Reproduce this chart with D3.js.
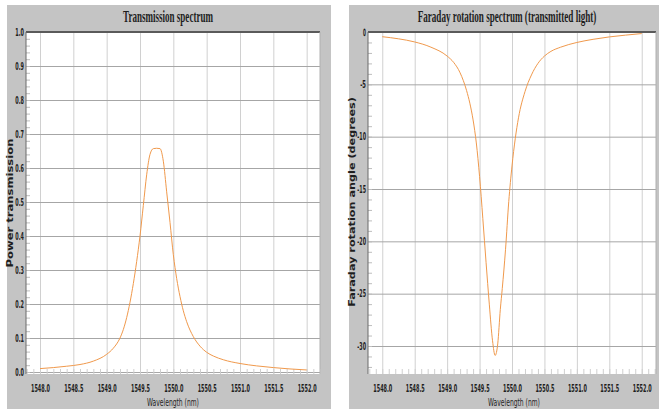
<!DOCTYPE html>
<html>
<head>
<meta charset="utf-8">
<title>Transmission and Faraday rotation spectra</title>
<script src="https://d3js.org/d3.v7.min.js"></script>
<style>
  body { margin: 0; background: #fff; }
  svg text { fill: #1e1e1e; }
</style>
</head>
<body>
<div id="my_dataviz"></div>
<script>
// values
var wavelengthT = [1548.0, 1548.2, 1548.4, 1548.6, 1548.8, 1549.0, 1549.1, 1549.2, 1549.25, 1549.3,
  1549.35, 1549.4, 1549.45, 1549.5, 1549.55, 1549.6, 1549.65, 1549.7, 1549.75, 1549.8,
  1549.85, 1549.9, 1549.95, 1550.0, 1550.05, 1550.1, 1550.15, 1550.2, 1550.3, 1550.4,
  1550.5, 1550.6, 1550.75, 1551.0, 1551.25, 1551.5, 1551.75, 1552.0];
var transmission = [0.010, 0.013, 0.017, 0.022, 0.032, 0.052, 0.070, 0.100, 0.125, 0.160,
  0.205, 0.260, 0.325, 0.400, 0.490, 0.580, 0.640, 0.657, 0.658, 0.657,
  0.620, 0.530, 0.440, 0.345, 0.275, 0.222, 0.180, 0.148, 0.104, 0.076,
  0.058, 0.047, 0.036, 0.025, 0.018, 0.013, 0.009, 0.006];

var wavelengthF = [1548.0, 1548.25, 1548.5, 1548.75, 1549.0, 1549.1, 1549.2, 1549.3, 1549.35, 1549.4,
  1549.45, 1549.5, 1549.55, 1549.6, 1549.65, 1549.7, 1549.74, 1549.78, 1549.82, 1549.85,
  1549.9, 1549.95, 1550.0, 1550.05, 1550.1, 1550.2, 1550.3, 1550.4, 1550.5, 1550.6,
  1550.75, 1551.0, 1551.25, 1551.5, 1551.75, 1552.0];
var faraday = [-0.45, -0.65, -0.95, -1.45, -2.3, -2.9, -3.9, -5.6, -6.8, -8.4,
  -10.6, -13.8, -17.8, -22.0, -26.0, -29.5, -30.9, -29.8, -26.5, -24.5,
  -20.8, -16.2, -12.8, -10.2, -8.2, -5.7, -4.1, -3.0, -2.3, -1.85,
  -1.45, -1.0, -0.7, -0.47, -0.3, -0.15];

var xTicks = [1548.0, 1548.5, 1549.0, 1549.5, 1550.0, 1550.5, 1551.0, 1551.5, 1552.0];
var transTicks = [0, 0.1, 0.2, 0.3, 0.4, 0.5, 0.6, 0.7, 0.8, 0.9, 1.0];
var faradayTicks = [0, -5, -10, -15, -20, -25, -30];

var svg = d3.select("#my_dataviz")
  .append("svg")
    .attr("width", 659)
    .attr("height", 409);

var narrow = "'Liberation Sans Narrow', 'DejaVu Sans Condensed', 'Liberation Sans', sans-serif";

// squeeze a text horizontally so it is `w` pixels wide (the originals use a narrow font)
function squeeze(node, w, prefix) {
  var s = w / node.getComputedTextLength();
  d3.select(node).attr("transform", (prefix || "") + " scale(" + s + ",1)");
}

function drawPanel(p) {
  var g = svg.append("g");

  // gray panel + white plot area
  g.append("rect")
    .attr("x", p.bx).attr("y", 5)
    .attr("width", p.bw).attr("height", 404)
    .attr("fill", "#c4c4c4");
  g.append("rect")
    .attr("x", p.left).attr("y", p.top)
    .attr("width", p.right - p.left).attr("height", p.bottom - p.top)
    .attr("fill", "#fff");

  var x = d3.scaleLinear().domain(p.xDomain).range([p.left, p.right]);
  var y = d3.scaleLinear().domain(p.yDomain).range(p.yRange);

  // vertical grid (lighter)
  g.append("g")
    .attr("transform", "translate(0," + p.bottom + ")")
    .call(d3.axisBottom(x).tickValues(xTicks).tickSize(-(p.bottom - p.top)).tickFormat(""))
    .call(function(a) { a.select(".domain").remove(); })
    .selectAll(".tick line").attr("stroke", "#d0d0d0");

  // horizontal grid (darker)
  g.append("g")
    .attr("transform", "translate(" + p.left + ",0)")
    .call(d3.axisLeft(y).tickValues(p.yTicks).tickSize(-(p.right - p.left)).tickFormat(""))
    .call(function(a) { a.select(".domain").remove(); })
    .selectAll(".tick line").attr("stroke", "#a6a6a6");

  // minor ticks along the bottom
  g.append("g")
    .attr("transform", "translate(0," + p.bottom + ")")
    .call(d3.axisBottom(x).tickValues(d3.range(1547.8, 1552.25, 0.1)).tickSize(-5).tickFormat(""))
    .call(function(a) { a.select(".domain").remove(); })
    .selectAll(".tick line").attr("stroke", "#cfcfcf");

  // minor ticks along the left edge
  g.append("g")
    .attr("transform", "translate(" + p.left + ",0)")
    .call(d3.axisLeft(y).tickValues(p.yMinor).tickSize(-4).tickFormat(""))
    .call(function(a) { a.select(".domain").remove(); })
    .selectAll(".tick line").attr("stroke", "#bdbdbd");

  // frame: dark top and left, light right
  g.append("line")
    .attr("x1", p.left).attr("x2", p.right)
    .attr("y1", p.top).attr("y2", p.top)
    .attr("stroke", "#5a5a5a").attr("stroke-width", 2);
  g.append("line")
    .attr("x1", p.left).attr("x2", p.left)
    .attr("y1", p.top).attr("y2", p.bottom)
    .attr("stroke", "#6a6a6a").attr("stroke-width", 1);
  g.append("line")
    .attr("x1", p.right).attr("x2", p.right)
    .attr("y1", p.top).attr("y2", p.bottom)
    .attr("stroke", "#b0b0b0").attr("stroke-width", 1);

  // the curve
  var line = d3.line()
    .x(function(d) { return x(d[0]); })
    .y(function(d) { return y(d[1]); })
    .curve(d3.curveMonotoneX);
  g.append("path")
    .datum(d3.zip(p.xs, p.ys))
    .attr("fill", "none")
    .attr("stroke", "#f0994c")
    .attr("stroke-width", 1)
    .attr("d", line);

  // x tick labels
  g.append("g")
    .attr("transform", "translate(0," + p.bottom + ")")
    .call(d3.axisBottom(x).tickValues(xTicks).tickSize(0).tickPadding(11)
      .tickFormat(d3.format(".1f")))
    .call(function(a) { a.select(".domain").remove(); })
    .selectAll("text")
      .style("font-family", narrow).style("font-size", "10px").style("font-weight", "bold")
      .each(function() { squeeze(this, 19); });

  // y tick labels
  g.append("g")
    .attr("transform", "translate(" + (p.left - 2) + ",0)")
    .call(d3.axisLeft(y).tickValues(p.yTicks).tickSize(0).tickPadding(0)
      .tickFormat(p.yFormat))
    .call(function(a) { a.select(".domain").remove(); })
    .selectAll("text")
      .style("font-family", narrow).style("font-size", "10px").style("font-weight", "bold")
      .each(function(d) { squeeze(this, p.yFormat(d).length * 2.9); });

  // title
  g.append("text")
    .attr("text-anchor", "middle")
    .style("font-family", "'Liberation Serif', 'DejaVu Serif', serif")
    .style("font-size", "16px").style("font-weight", "bold")
    .text(p.title)
    .each(function() { squeeze(this, p.titleLen, "translate(" + p.titleX + ",22)"); });

  // x axis label
  g.append("text")
    .attr("text-anchor", "middle")
    .style("font-family", narrow).style("font-size", "10px")
    .text("Wavelength (nm)")
    .each(function() { squeeze(this, 52, "translate(" + p.xLabelX + ",406)"); });

  // y axis label
  g.append("text")
    .attr("text-anchor", "middle")
    .style("font-family", "'DejaVu Sans', Verdana, sans-serif")
    .style("font-size", "9px").style("font-weight", "bold")
    .text(p.yLabel)
    .each(function() {
      squeeze(this, p.yLabelLen, "translate(" + p.yLabelX + "," + p.yLabelY + ") rotate(-90)");
    });
}

drawPanel({
  bx: 7, bw: 324,
  left: 26, right: 320, top: 32, bottom: 374,
  xDomain: [1547.79, 1552.2],
  yDomain: [0, 1], yRange: [372, 32],
  yTicks: transTicks, yMinor: d3.range(0, 1.001, 0.02),
  yFormat: d3.format(".1f"),
  xs: wavelengthT, ys: transmission,
  title: "Transmission spectrum", titleX: 168, titleLen: 90,
  xLabelX: 173,
  yLabel: "Power transmission", yLabelX: 13, yLabelY: 203, yLabelLen: 129
});

drawPanel({
  bx: 349, bw: 310,
  left: 368, right: 656, top: 32, bottom: 374,
  xDomain: [1547.78, 1552.22],
  yDomain: [0, -30], yRange: [32, 346],
  yTicks: faradayTicks, yMinor: d3.range(0, -32.5, -1),
  yFormat: function(d) { return String(d); },
  xs: wavelengthF, ys: faraday,
  title: "Faraday rotation spectrum (transmitted light)", titleX: 507, titleLen: 179,
  xLabelX: 514,
  yLabel: "Faraday rotation angle (degrees)", yLabelX: 355, yLabelY: 202, yLabelLen: 210
});
</script>
</body>
</html>
